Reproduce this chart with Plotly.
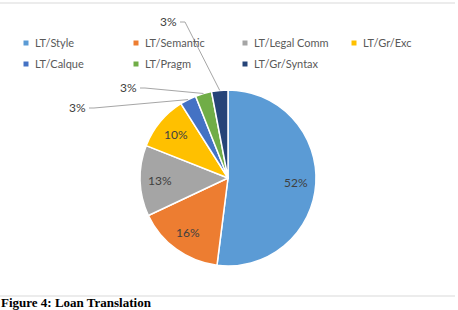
import math
import plotly.graph_objects as go

categories = ["LT/Style", "LT/Semantic", "LT/Legal Comm", "LT/Gr/Exc",
              "LT/Calque", "LT/Pragm", "LT/Gr/Syntax"]
values = [52, 16, 13, 10, 3, 3, 3]
colors = ["#5B9BD5", "#ED7D31", "#A5A5A5", "#FFC000", "#4472C4", "#70AD47", "#264478"]

W, H = 458, 310
# pie box in pixels
PX0, PX1, PY0, PY1 = 140, 316, 90, 266
cx, cy = (PX0 + PX1) / 2, (PY0 + PY1) / 2
R = (PX1 - PX0) / 2


def px(x):
    return x / W


def py(y):
    return 1 - y / H


fig = go.Figure()
fig.add_trace(go.Pie(
    labels=categories, values=values, sort=False, direction="clockwise",
    rotation=0, marker=dict(colors=colors, line=dict(color="white", width=1.5)),
    textinfo="none", hoverinfo="label+percent", showlegend=False,
    domain=dict(x=[px(PX0), px(PX1)], y=[py(PY1), py(PY0)]),
))

annotations = []
shapes = []

# data labels
total = sum(values)
cum = 0
mids = []
for v in values:
    mids.append((cum + v / 2) / total * 2 * math.pi)
    cum += v

outside_pos = {4: (77, 107), 5: (128, 87), 6: (168, 21)}
for i, (v, a) in enumerate(zip(values, mids)):
    txt = f"{round(v / total * 100)}%"
    if i in outside_pos:
        lx, ly = outside_pos[i]
        ex, ey = cx + R * math.sin(a), cy - R * math.cos(a)
        annotations.append(dict(x=px(lx), y=py(ly), xref="paper", yref="paper",
                                text=txt, showarrow=False, xanchor="center", yanchor="middle",
                                font=dict(family="Lato", size=12, color="#404040")))
        sx = lx + 12
        hx = sx + 5
        shapes.append(dict(type="path", xref="paper", yref="paper",
                           path=f"M{px(sx)},{py(ly + 1)} L{px(hx)},{py(ly + 1)} L{px(ex)},{py(ey)}",
                           line=dict(color="#A6A6A6", width=1)))
    else:
        rr = 0.77 * R
        lx, ly = cx + rr * math.sin(a), cy - rr * math.cos(a)
        annotations.append(dict(x=px(lx), y=py(ly), xref="paper", yref="paper",
                                text=txt, showarrow=False, xanchor="center", yanchor="middle",
                                font=dict(family="Lato", size=12, color="#404040")))

# legend (manual, Excel style)
col_x = [26, 136, 245, 354]
row_y = [43, 64]
for i, (name, c) in enumerate(zip(categories, colors)):
    r, k = divmod(i, 4)
    mx, my = col_x[k], row_y[r]
    shapes.append(dict(type="rect", xref="paper", yref="paper",
                       x0=px(mx - 2.5), x1=px(mx + 2.5), y0=py(my + 2.5), y1=py(my - 2.5),
                       fillcolor=c, line=dict(width=0)))
    annotations.append(dict(x=px(mx + 7), y=py(my), xref="paper", yref="paper",
                            text=name, showarrow=False, xanchor="left", yanchor="middle",
                            font=dict(family="Lato", size=11, color="#595959")))

# chart border lines
for yy in (3, 296):
    shapes.append(dict(type="line", xref="paper", yref="paper",
                       x0=0, x1=px(455), y0=py(yy), y1=py(yy),
                       line=dict(color="#D9D9D9", width=1)))

# caption
annotations.append(dict(x=0, y=py(311), xref="paper", yref="paper",
                        text="<b>Figure 4: Loan Translation</b>", showarrow=False,
                        xanchor="left", yanchor="bottom", borderpad=0,
                        font=dict(family="Liberation Serif", size=13, color="#000000")))

fig.update_layout(
    width=W, height=H, margin=dict(l=0, r=0, t=0, b=0),
    paper_bgcolor="white", plot_bgcolor="white",
    annotations=annotations, shapes=shapes,
)
fig.write_html("out.html")
